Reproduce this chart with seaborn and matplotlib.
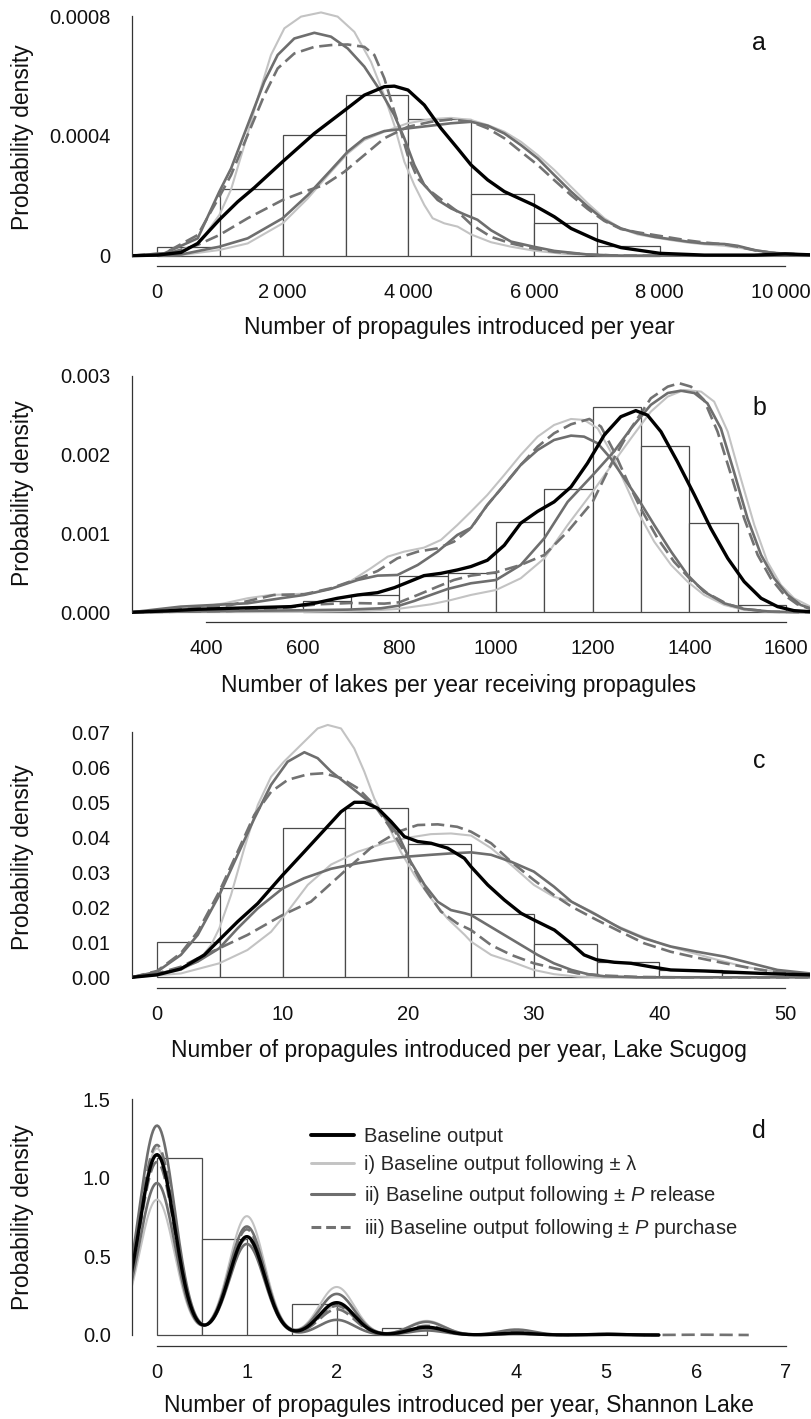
import numpy as np
import pandas as pd
import matplotlib
matplotlib.use("Agg")
import matplotlib.pyplot as plt
from matplotlib.lines import Line2D
import seaborn as sns

# ======================= DATA =======================
# ---- panel a : propagules per year (density in units of 1e-4) ----
a_edges = [0, 1000, 2000, 3000, 4000, 5000, 6000, 7000, 8000]
a_hist = [0.28, 2.21, 4.03, 5.38, 4.56, 2.05, 1.08, 0.32]
a_base = [(-400,0),(0,0.02),(382,0.11),(647,0.41),(992,1.2),(1284,1.80),(1549,2.27),(2000,3.14),
          (2504,4.08),(2992,4.86),(3300,5.36),(3618,5.64),(3777,5.66),(3994,5.53),(4254,5.03),
          (4520,4.25),(4785,3.58),(4998,3.03),(5263,2.53),(5529,2.14),(5995,1.69),(6324,1.30),
          (6590,0.91),(7000,0.52),(7385,0.27),(8001,0.08),(8712,0.02),(9507,0.02),(9995,0.06),(10400,0.03)]
a_i_lo = [(-400,0),(117,0.04),(647,0.36),(992,1.36),(1178,2.21),(1390,3.69),(1602,5.25),(1814,6.70),
          (2027,7.59),(2292,7.98),(2610,8.12),(2875,7.98),(3141,7.47),(3406,6.47),(3618,5.34),(3777,4.36),
          (3936,3.14),(4095,2.36),(4255,1.69),(4387,1.25),(4573,1.08),(4785,0.97),(4998,0.71),(5316,0.45),
          (5635,0.30),(5995,0.17),(6483,0.06),(7120,0.01),(8181,0),(10400,0)]
a_ii_lo = [(-400,0),(117,0.08),(647,0.58),(992,2.14),(1178,2.91),(1443,4.36),(1708,5.81),(1920,6.70),
           (2185,7.25),(2504,7.44),(2769,7.31),(3034,6.92),(3300,6.31),(3565,5.47),(3777,4.69),(3936,3.92),
           (4095,3.03),(4254,2.36),(4467,1.86),(4679,1.58),(4890,1.38),(5100,1.20),(5316,0.85),(5635,0.47),
           (5995,0.30),(6324,0.16),(6855,0.04),(7385,0),(10400,0)]
a_iii_lo = [(-400,0),(117,0.08),(647,0.69),(992,1.97),(1178,2.69),(1443,4.03),(1708,5.36),(1920,6.25),
            (2185,6.75),(2504,6.97),(2769,7.03),(3034,7.05),(3300,6.97),(3459,6.70),(3618,5.92),(3777,4.81),
            (3883,4.14),(3989,3.36),(4148,2.58),(4360,2.14),(4573,1.80),(4785,1.47),(4998,1.05),(5316,0.63),
            (5635,0.41),(5995,0.24),(6324,0.13),(6855,0.04),(7385,0),(10400,0)]
a_i_hi = [(-400,0),(382,0.02),(992,0.19),(1443,0.41),(2000,1.08),(2398,1.91),(2769,2.80),(3034,3.41),
          (3300,3.86),(3618,4.14),(3989,4.42),(4360,4.56),(4679,4.60),(4998,4.53),(5263,4.36),(5529,4.14),
          (5794,3.80),(6059,3.36),(6324,2.86),(6590,2.30),(6855,1.75),(7120,1.25),(7385,0.91),(7651,0.71),
          (7916,0.61),(8181,0.52),(8446,0.44),(8712,0.38),(9030,0.33),(9348,0.24),(9773,0.11),(10400,0.03)]
a_ii_hi = [(-400,0),(382,0.04),(992,0.30),(1443,0.58),(2000,1.25),(2398,2.02),(2769,2.86),(3034,3.47),
           (3300,3.92),(3618,4.16),(3989,4.25),(4360,4.34),(4679,4.42),(4998,4.47),(5263,4.34),(5529,4.08),
           (5794,3.69),(6059,3.25),(6324,2.69),(6590,2.14),(6855,1.64),(7120,1.19),(7385,0.91),(7651,0.75),
           (7916,0.63),(8181,0.55),(8446,0.47),(8712,0.41),(9030,0.39),(9242,0.33),(9507,0.19),(9773,0.10),
           (10038,0.06),(10400,0.03)]
a_iii_hi = [(-400,0),(117,0.04),(647,0.36),(992,0.69),(1443,1.25),(2000,1.86),(2345,2.14),(2663,2.36),
            (2981,2.80),(3300,3.36),(3618,3.92),(3989,4.30),(4360,4.47),(4679,4.55),(4998,4.47),(5263,4.25),
            (5529,3.92),(5794,3.47),(6059,3.03),(6324,2.52),(6590,2.02),(6855,1.56),(7120,1.16),(7385,0.89),
            (7651,0.78),(7916,0.69),(8181,0.60),(8446,0.51),(8712,0.44),(9030,0.38),(9242,0.30),(9560,0.16),
            (9879,0.08),(10400,0.03)]
a_xticks = [0, 2000, 4000, 6000, 8000, 10000]
a_xticklabels = ["0", "2\u2009000", "4\u2009000", "6\u2009000", "8\u2009000", "10\u2009000"]
a_yticks = [0, 0.0002, 0.0004, 0.0006, 0.0008]
a_yticklabels = ["0", "", "0.0004", "", "0.0008"]

# ---- panel b : lakes receiving propagules (density in units of 1e-3) ----
b_edges = [600, 700, 800, 900, 1000, 1100, 1200, 1300, 1400, 1500, 1600]
b_hist = [0.14, 0.225, 0.455, 0.50, 1.148, 1.564, 2.604, 2.106, 1.126, 0.09]
b_base = [(245,0),(314,0.017),(383,0.038),(452,0.051),(521,0.063),(576,0.072),(624,0.114),(672,0.178),
          (714,0.220),(755,0.249),(790,0.313),(824,0.397),(851,0.465),(886,0.494),(920,0.537),(948,0.58),
          (982,0.66),(1017,0.85),(1051,1.13),(1086,1.28),(1120,1.40),(1155,1.59),(1189,1.89),(1224,2.25),
          (1258,2.48),(1289,2.557),(1313,2.50),(1341,2.29),(1375,1.91),(1410,1.49),(1444,1.065),(1479,0.685),
          (1513,0.389),(1548,0.178),(1582,0.072),(1616,0.021),(1650,0.008)]
b_i_lo = [(245,0),(314,0.017),(383,0.059),(438,0.114),(486,0.178),(534,0.22),(576,0.228),(617,0.241),
          (658,0.296),(700,0.397),(741,0.558),(776,0.706),(810,0.769),(851,0.820),(886,0.917),(920,1.107),
          (948,1.276),(982,1.488),(1017,1.741),(1051,1.995),(1086,2.227),(1120,2.375),(1155,2.451),(1182,2.439),
          (1210,2.333),(1237,2.037),(1265,1.657),(1293,1.276),(1327,0.896),(1362,0.600),(1396,0.389),
          (1430,0.220),(1472,0.093),(1513,0.030),(1568,0.004),(1650,0)]
b_ii_lo = [(245,0),(348,0.072),(417,0.093),(486,0.114),(555,0.178),(603,0.220),(658,0.296),(714,0.41),
           (755,0.465),(796,0.473),(838,0.60),(879,0.769),(920,0.981),(948,1.07),(982,1.361),(1017,1.615),
           (1051,1.868),(1086,2.058),(1120,2.185),(1155,2.240),(1182,2.227),(1210,2.143),(1237,1.953),
           (1265,1.699),(1293,1.446),(1327,1.107),(1362,0.769),(1396,0.473),(1430,0.262),(1472,0.114),
           (1513,0.042),(1568,0.008),(1650,0)]
b_iii_lo = [(245,0),(348,0.038),(452,0.093),(541,0.220),(603,0.228),(658,0.304),(714,0.423),(755,0.524),
            (796,0.685),(838,0.769),(879,0.811),(913,0.896),(948,1.065),(982,1.361),(1017,1.615),(1051,1.868),
            (1086,2.100),(1120,2.270),(1155,2.384),(1193,2.451),(1217,2.354),(1244,2.037),(1272,1.657),
            (1299,1.319),(1334,0.938),(1368,0.642),(1403,0.410),(1437,0.241),(1479,0.101),(1520,0.038),
            (1568,0.008),(1650,0)]
b_i_hi = [(245,0),(590,0.004),(727,0.017),(796,0.042),(865,0.101),(907,0.156),(948,0.220),(1000,0.283),
          (1051,0.431),(1100,0.685),(1148,1.107),(1200,1.53),(1244,1.91),(1279,2.206),(1320,2.544),
          (1355,2.735),(1389,2.819),(1424,2.798),(1451,2.671),(1479,2.291),(1506,1.699),(1534,1.107),
          (1561,0.642),(1589,0.347),(1616,0.178),(1650,0.072)]
b_ii_hi = [(245,0),(452,0.017),(590,0.025),(693,0.034),(762,0.051),(800,0.085),(831,0.144),(865,0.220),
           (900,0.296),(948,0.368),(1000,0.41),(1051,0.60),(1100,0.94),(1148,1.40),(1200,1.74),(1244,2.04),
           (1279,2.33),(1320,2.63),(1355,2.78),(1382,2.81),(1410,2.78),(1437,2.65),(1465,2.33),(1492,1.78),
           (1520,1.19),(1548,0.727),(1575,0.431),(1603,0.220),(1630,0.093),(1650,0.051)]
b_iii_hi = [(245,0),(452,0.017),(555,0.051),(631,0.101),(700,0.118),(769,0.110),(800,0.127),(838,0.220),
            (879,0.325),(913,0.410),(948,0.465),(1000,0.507),(1051,0.60),(1100,0.727),(1148,1.023),
            (1200,1.403),(1244,1.953),(1279,2.333),(1320,2.713),(1355,2.861),(1379,2.904),(1403,2.861),
            (1430,2.692),(1458,2.291),(1486,1.741),(1513,1.192),(1541,0.727),(1568,0.431),(1596,0.220),
            (1623,0.101),(1650,0.042)]
b_xticks = [400, 600, 800, 1000, 1200, 1400, 1600]
b_yticks = [0, 0.0005, 0.001, 0.0015, 0.002, 0.0025, 0.003]
b_yticklabels = ["0.000", "", "0.001", "", "0.002", "", "0.003"]

# ---- panel c : Lake Scugog (density in units of 1e-2) ----
c_edges = [0, 5, 10, 15, 20, 25, 30, 35, 40, 45, 50]
c_hist = [1.02, 2.56, 4.28, 4.83, 3.80, 1.80, 0.95, 0.43, 0.21, 0.13]
c_base = [(-2,0),(0,0.07),(1.9,0.24),(3.77,0.64),(4.96,1.07),(6.42,1.59),(8.02,2.11),(10.0,2.92),
          (11.73,3.59),(13.32,4.21),(14.65,4.73),(15.71,5.0),(16.51,5.0),(17.57,4.83),(18.63,4.45),
          (19.69,4.02),(20.75,3.88),(21.82,3.83),(23.14,3.69),(24.47,3.40),(25.0,3.16),(26.33,2.64),
          (27.65,2.21),(28.98,1.83),(30.0,1.64),(31.64,1.35),(32.96,0.97),(34.0,0.64),(35.0,0.50),
          (36.4,0.43),(37.74,0.40),(39.33,0.30),(40.9,0.21),(43.6,0.18),(46.2,0.14),(48.9,0.10),(52,0.07)]
c_i_lo = [(-2,0),(0,0.07),(1.9,0.21),(3.24,0.45),(4.3,0.92),(4.96,1.40),(5.89,2.35),(6.95,3.69),
          (8.02,4.92),(9.08,5.73),(10.1,6.16),(11.46,6.64),(12.79,7.11),(13.59,7.21),(14.65,7.11),
          (15.7,6.54),(16.5,5.88),(17.3,5.11),(18.4,4.35),(19.4,3.59),(20.5,2.92),(21.8,2.26),(23.1,1.69),
          (24.5,1.21),(25.0,1.02),(26.6,0.64),(28.2,0.45),(30.0,0.21),(31.6,0.09),(33.5,0.02),(35.6,0),(52,0)]
c_ii_lo = [(-2,0),(0,0.16),(1.9,0.64),(3.24,1.21),(4.96,2.35),(6.42,3.50),(7.75,4.54),(9.08,5.50),
           (10.4,6.16),(11.73,6.43),(12.79,6.26),(13.85,5.88),(15.2,5.50),(16.5,5.13),(17.8,4.73),(19.2,4.07),
           (20.2,3.30),(21.3,2.64),(22.35,2.16),(23.4,1.92),(24.5,1.83),(25.0,1.78),(26.3,1.50),(27.65,1.21),
           (29.0,0.92),(30.3,0.64),(31.6,0.40),(33.0,0.21),(34.3,0.09),(35.6,0.03),(38.3,0),(52,0)]
c_iii_lo = [(-2,0),(0,0.18),(1.9,0.69),(3.24,1.30),(4.96,2.45),(6.42,3.59),(7.75,4.64),(9.08,5.30),
            (10.4,5.64),(12.0,5.80),(13.3,5.83),(14.65,5.69),(16.0,5.40),(17.3,4.92),(18.6,4.26),(20.0,3.40),
            (21.3,2.54),(22.6,1.88),(23.9,1.54),(25.0,1.35),(26.6,0.92),(28.2,0.64),(30.0,0.40),(31.6,0.26),
            (33.5,0.11),(35.6,0.05),(38.3,0.01),(41.5,0),(52,0)]
c_i_hi = [(-2,0),(1.9,0.11),(4.96,0.40),(7.2,0.78),(9.08,1.30),(10.4,1.88),(12.0,2.64),(13.85,3.22),
          (16.0,3.59),(18.1,3.83),(20.0,3.99),(21.8,4.09),(23.4,4.11),(25.0,4.05),(26.6,3.69),(28.2,3.21),
          (30.0,2.64),(31.6,2.30),(33.0,2.16),(34.6,1.88),(36.4,1.50),(38.3,1.21),(40.4,0.92),(42.5,0.71),
          (44.6,0.50),(46.8,0.30),(48.9,0.18),(52.1,0.09)]
c_ii_hi = [(-2,0),(0,0.09),(1.9,0.26),(3.24,0.45),(4.96,0.83),(6.42,1.40),(8.02,1.97),(10.0,2.54),
           (11.7,2.83),(13.85,3.10),(16.0,3.26),(18.1,3.38),(20.0,3.45),(21.8,3.50),(23.4,3.54),(25.0,3.57),
           (26.6,3.50),(28.2,3.30),(30.0,3.02),(31.6,2.59),(33.0,2.16),(35.0,1.78),(36.9,1.40),(38.8,1.11),
           (40.9,0.88),(43.0,0.73),(45.2,0.59),(47.3,0.40),(49.4,0.21),(52.0,0.11)]
c_iii_hi = [(-2,0),(0,0.11),(1.9,0.30),(3.24,0.54),(4.96,0.83),(7.2,1.21),(10.0,1.78),(12.25,2.16),
            (14.9,3.02),(17.0,3.69),(19.2,4.16),(20.75,4.35),(22.35,4.37),(23.9,4.30),(25.0,4.16),(26.6,3.83),
            (28.2,3.30),(30.0,2.78),(31.6,2.35),(33.0,2.02),(35.0,1.64),(36.9,1.30),(38.8,0.97),(40.9,0.73),
            (43.0,0.56),(45.2,0.40),(47.3,0.26),(49.4,0.14),(52.1,0.07)]
c_xticks = [0, 10, 20, 30, 40, 50]
c_yticks = [0, 0.01, 0.02, 0.03, 0.04, 0.05, 0.06, 0.07]
c_yticklabels = ["0.00", "0.01", "0.02", "0.03", "0.04", "0.05", "0.06", "0.07"]

# ---- panel d : Shannon Lake (discrete counts; kernel density of the counts) ----
d_edges = [0, 0.5, 1.0, 1.5, 2.0, 2.5, 3.0]
d_hist = [1.125, 0.611, 0.0, 0.197, 0.0, 0.047]
d_counts = [0, 1, 2, 3, 4, 5]
d_counts_long = [0, 1, 2, 3, 4, 5, 6]
# relative weight of each count (read as the peak height above each count)
d_base = [1.155, 0.63, 0.207, 0.05, 0.012, 0.004]
d_i_lo = [0.86, 0.755, 0.305, 0.09, 0.025, 0.006]
d_i_hi = [1.15, 0.60, 0.18, 0.04, 0.008, 0.002]
d_ii_lo = [0.98, 0.70, 0.265, 0.085, 0.035, 0.008]
d_ii_hi = [1.38, 0.60, 0.10, 0.03, 0.006, 0.002]
d_iii_lo = [1.13, 0.69, 0.19, 0.06, 0.02, 0.006, 0.002]
d_iii_hi = [1.22, 0.62, 0.165, 0.045, 0.01, 0.003]
d_xticks = [0, 1, 2, 3, 4, 5, 6, 7]
d_yticks = [0, 0.5, 1.0, 1.5]
d_yticklabels = ["0.0", "0.5", "1.0", "1.5"]

legend_labels = ["Baseline output",
                 "i) Baseline output following \u00b1 \u03bb",
                 "ii) Baseline output following \u00b1 $P$ release",
                 "iii) Baseline output following \u00b1 $P$ purchase"]

# ======================= STYLE =======================
sns.set_theme(style="white")
plt.rcParams["font.family"] = ["Liberation Sans", "DejaVu Sans"]
plt.rcParams["mathtext.fontset"] = "custom"
plt.rcParams["mathtext.rm"] = "Liberation Sans"
plt.rcParams["mathtext.it"] = "Liberation Sans:italic"
plt.rcParams["lines.solid_joinstyle"] = "round"
plt.rcParams["lines.dash_joinstyle"] = "round"

BLACK = "#000000"
LIGHT = "#c3c3c3"
DARK = "#6e6e6e"
DASHC = "#727272"
EDGE = "#4a4a4a"
AXC = "#333333"
LW_B, LW_L, LW_D = 2.4, 1.5, 1.9
DASH = (0, (5, 2.2))
D_SIGMA = 0.195

TICK_FS = 14.5
LAB_FS = 16.5
XPAD = 6.5

fig = plt.figure(figsize=(8.11, 14.19), dpi=100)
L, W = 131.9 / 811, 678.5 / 811


def make_axes(top_px, bottom_px):
    return fig.add_axes([L, 1 - bottom_px / 1419, W, (bottom_px - top_px) / 1419])


def draw_hist(ax, edges, heights, scale):
    centers = [(edges[i] + edges[i + 1]) / 2 for i in range(len(heights))]
    w = [h * scale for h in heights]
    sns.histplot(x=centers, weights=w, bins=edges, stat="count", ax=ax,
                 color="white", edgecolor=EDGE, linewidth=0.9, alpha=1, legend=False)


def draw_curve(ax, pts, scale, color, lw, ls="-"):
    df = pd.DataFrame(pts, columns=["x", "y"])
    df["y"] = df["y"] * scale
    sns.lineplot(data=df, x="x", y="y", ax=ax, color=color, linewidth=lw,
                 linestyle=ls, sort=False, estimator=None, legend=False)


def bw_factor(vals, w, sigma):
    v = np.asarray(vals, float)
    ww = np.asarray(w, float)
    ww = ww / ww.sum()
    m = (ww * v).sum()
    cov = (ww * (v - m) ** 2).sum() / (1 - (ww ** 2).sum())
    return sigma / np.sqrt(cov)


def draw_kde(ax, vals, w, color, lw, ls="-"):
    # the evaluation grid spans min-3*bw .. max+3*bw, as in R's density()
    sns.kdeplot(x=vals, weights=w, bw_method=bw_factor(vals, w, D_SIGMA), cut=3,
                clip=(min(vals) - 3 * D_SIGMA, max(vals) + 3 * D_SIGMA),
                common_grid=False, gridsize=400, ax=ax, color=color,
                linewidth=lw, linestyle=ls)


def style(ax, xlim, ylim, xb, yb, xt, xtl, yt, ytl, xlabel, xlab_y, ylab_y):
    ax.set_xlim(xlim)
    ax.set_ylim(ylim)
    ax.spines["top"].set_visible(False)
    ax.spines["right"].set_visible(False)
    for s in ("left", "bottom"):
        ax.spines[s].set_color(AXC)
        ax.spines[s].set_linewidth(0.9)
    ax.spines["left"].set_bounds(*yb)
    ax.spines["bottom"].set_bounds(*xb)
    ax.set_xticks(xt)
    ax.set_xticklabels(xtl)
    ax.set_yticks(yt)
    ax.set_yticklabels(ytl)
    ax.tick_params(axis="both", direction="out", length=5.8, width=0.9, color=AXC,
                   labelsize=TICK_FS, labelcolor="#111111")
    ax.tick_params(axis="x", pad=XPAD)
    ax.tick_params(axis="y", pad=9.5)
    ax.set_xlabel(xlabel, fontsize=LAB_FS, color="#111111")
    ax.set_ylabel("Probability density", fontsize=LAB_FS, color="#111111")
    ax.xaxis.set_label_coords(0.482, xlab_y)
    ax.yaxis.set_label_coords(-0.1443, ylab_y)
    ax.grid(False)
    ax.set_facecolor("white")


def curves(ax, sets, scale):
    lo_i, hi_i, lo_ii, hi_ii, lo_iii, hi_iii, base = sets
    for p in (lo_i, hi_i):
        draw_curve(ax, p, scale, LIGHT, LW_L)
    for p in (lo_ii, hi_ii):
        draw_curve(ax, p, scale, DARK, LW_D)
    for p in (lo_iii, hi_iii):
        draw_curve(ax, p, scale, DASHC, LW_D, DASH)
    draw_curve(ax, base, scale, BLACK, LW_B)


# ---- panel a ----
axa = make_axes(0, 265.7)
draw_hist(axa, a_edges, a_hist, 1e-4)
curves(axa, (a_i_lo, a_i_hi, a_ii_lo, a_ii_hi, a_iii_lo, a_iii_hi, a_base), 1e-4)
style(axa, (-400, 10400), (-10 / 299600, 255.7 / 299600), (0, 10000), (0, 0.0008),
      a_xticks, a_xticklabels[:-1] + [""], a_yticks, a_yticklabels,
      "Number of propagules introduced per year", -0.19, 0.484)
# last tick label sits at the right edge of the figure: nudge it left a little
axa.annotate(a_xticklabels[-1], xy=(a_xticks[-1], 0), xycoords=("data", "axes fraction"),
             xytext=(-3, -(5.8 + XPAD)), textcoords="offset points",
             ha="center", va="top", fontsize=TICK_FS, color="#111111")

# ---- panel b ----
axb = make_axes(360, 621.7)
draw_hist(axb, b_edges, b_hist, 1e-3)
curves(axb, (b_i_lo, b_i_hi, b_ii_lo, b_ii_hi, b_iii_lo, b_iii_hi, b_base), 1e-3)
style(axb, (247, 1650), (-9.4 / 78870, 252.3 / 78870), (400, 1600), (0, 0.003),
      b_xticks, [str(v) for v in b_xticks], b_yticks, b_yticklabels,
      "Number of lakes per year receiving propagules", -0.20, 0.492)

# ---- panel c ----
axc = make_axes(715, 988.3)
draw_hist(axc, c_edges, c_hist, 1e-2)
curves(axc, (c_i_lo, c_i_hi, c_ii_lo, c_ii_hi, c_iii_lo, c_iii_hi, c_base), 1e-2)
style(axc, (-2.0, 52.02), (-11 / 3500, 262.3 / 3500), (0, 50), (0, 0.07),
      c_xticks, [str(v) for v in c_xticks], c_yticks, c_yticklabels,
      "Number of propagules introduced per year, Lake Scugog", -0.186, 0.48)

# ---- panel d ----
axd = make_axes(1090, 1345.7)
draw_hist(axd, d_edges, d_hist, 1.0)
for w in (d_i_lo, d_i_hi):
    draw_kde(axd, d_counts, w, LIGHT, LW_L)
for w in (d_ii_lo, d_ii_hi):
    draw_kde(axd, d_counts, w, DARK, LW_D)
draw_kde(axd, d_counts_long, d_iii_lo, DASHC, LW_D, DASH)
draw_kde(axd, d_counts, d_iii_hi, DASHC, LW_D, DASH)
draw_kde(axd, d_counts, d_base, BLACK, LW_B)
style(axd, (-0.279, 7.271), (-10.7 / 157.1, 245 / 157.1), (0, 7), (0, 1.5),
      d_xticks, [str(v) for v in d_xticks], d_yticks, d_yticklabels,
      "Number of propagules introduced per year, Shannon Lake", -0.19, 0.503)

handles = [Line2D([], [], color=BLACK, lw=LW_B + 0.4),
           Line2D([], [], color=LIGHT, lw=LW_L + 0.6),
           Line2D([], [], color=DARK, lw=LW_D + 0.3),
           Line2D([], [], color=DASHC, lw=LW_D + 0.3, linestyle=(0, (3.2, 1.6)))]
axd.legend(handles, legend_labels, loc="upper left", bbox_to_anchor=(0.264, 0.857),
           frameon=False, fontsize=TICK_FS, handlelength=2.14, handletextpad=0.5,
           labelspacing=0.49, borderpad=0, borderaxespad=0)

# ---- panel letters ----
for letter, ypx in (("a", 50), ("b", 415), ("c", 768), ("d", 1138)):
    fig.text(759 / 811, 1 - ypx / 1419, letter, ha="center", va="baseline",
             fontsize=18, color="#111111")

fig.savefig("out.png", dpi=100, facecolor="white")
